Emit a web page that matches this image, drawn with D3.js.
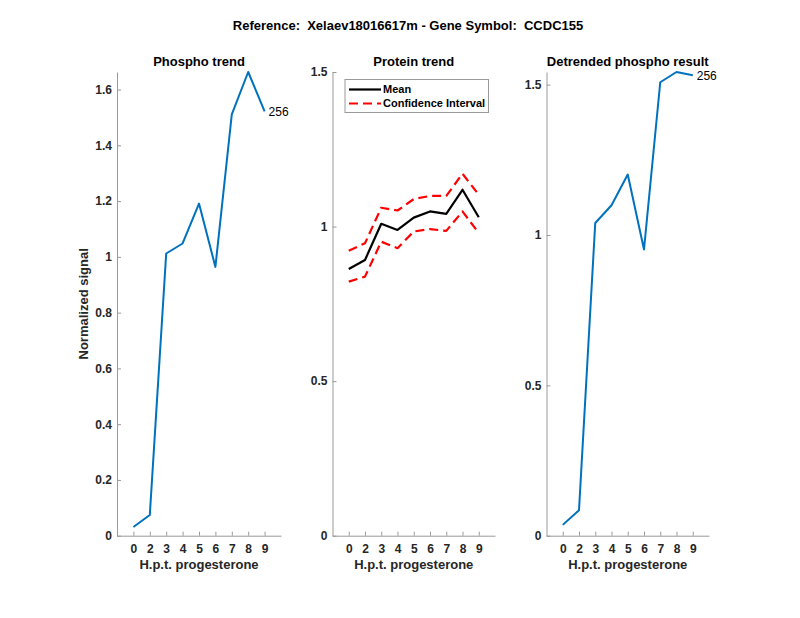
<!DOCTYPE html>
<html>
<head>
<meta charset="utf-8">
<script src="https://cdn.jsdelivr.net/npm/d3@7"></script>
<style>
  html, body { margin: 0; padding: 0; background: #fff; }
  svg { display: block; font-family: "Liberation Sans", Arial, Helvetica, sans-serif; }
</style>
</head>
<body>
<svg id="chart" width="800" height="618"></svg>
<script>
// ---- data ----
const categories = ["0", "2", "3", "4", "5", "6", "7", "8", "9"];
const phospho = [0.031, 0.074, 1.012, 1.048, 1.191, 0.964, 1.511, 1.663, 1.522];
const proteinMean = [0.863, 0.892, 1.009, 0.989, 1.029, 1.049, 1.041, 1.119, 1.030];
const proteinUpper = [0.922, 0.946, 1.061, 1.052, 1.089, 1.099, 1.099, 1.171, 1.103];
const proteinLower = [0.822, 0.838, 0.951, 0.930, 0.984, 0.992, 0.986, 1.049, 0.979];
const detrended = [0.036, 0.085, 1.040, 1.099, 1.201, 0.952, 1.508, 1.542, 1.531];
const phosphoTicks = [0, 0.2, 0.4, 0.6, 0.8, 1, 1.2, 1.4, 1.6];
const proteinTicks = [0, 0.5, 1, 1.5];
const detrendedTicks = [0, 0.5, 1, 1.5];
const mainTitle = "Reference:  Xelaev18016617m - Gene Symbol:  CCDC155";
const peptideLabel = "256";

const svg = d3.select("#chart");
const axisColor = "#9a9a9a";
const textColor = "#262626";
const plotTop = 72, plotBottom = 535.7;

svg.append("text")
  .attr("x", 408).attr("y", 30)
  .attr("text-anchor", "middle")
  .attr("font-size", "13px").attr("font-weight", "bold")
  .attr("fill", "#000")
  .style("white-space", "pre")
  .attr("xml:space", "preserve")
  .text(mainTitle);

function panel(opts) {
  const g = svg.append("g");
  const x = d3.scaleLinear().domain([0, categories.length + 1]).range([opts.left, opts.right]);
  const y = d3.scaleLinear().domain([0, opts.ymax]).range([plotBottom, plotTop]);

  const xAxis = d3.axisBottom(x)
    .tickValues(categories.map((c, i) => i + 1))
    .tickFormat((d) => categories[d - 1])
    .tickSizeInner(-4).tickSizeOuter(0).tickPadding(9);
  const yAxis = d3.axisLeft(y)
    .tickValues(opts.ticks)
    .tickFormat(d3.format("~g"))
    .tickSizeInner(-4).tickSizeOuter(0).tickPadding(5);

  const gx = g.append("g").attr("transform", `translate(0,${plotBottom})`).call(xAxis);
  const gy = g.append("g").attr("transform", `translate(${opts.left},0)`).call(yAxis);
  [gx, gy].forEach((a) => {
    a.select(".domain").attr("stroke", axisColor);
    a.selectAll(".tick line").attr("stroke", axisColor);
    a.selectAll(".tick text")
      .attr("fill", textColor)
      .attr("font-size", "12px")
      .attr("font-weight", "bold")
      .attr("font-family", "'Liberation Sans', Arial, sans-serif");
  });

  g.append("text")
    .attr("x", (opts.left + opts.right) / 2).attr("y", 66)
    .attr("text-anchor", "middle")
    .attr("font-size", "13px").attr("font-weight", "bold").attr("fill", "#000")
    .text(opts.title);

  g.append("text")
    .attr("x", (opts.left + opts.right) / 2).attr("y", 569)
    .attr("text-anchor", "middle")
    .attr("font-size", "13px").attr("font-weight", "bold").attr("fill", textColor)
    .text("H.p.t. progesterone");

  const line = d3.line().x((d, i) => x(i + 1)).y((d) => y(d));
  opts.series.forEach((s) => {
    g.append("path")
      .datum(s.values)
      .attr("d", line)
      .attr("fill", "none")
      .attr("stroke", s.color)
      .attr("stroke-width", s.width)
      .attr("stroke-dasharray", s.dash || null)
      .attr("stroke-linejoin", "round");
  });

  if (opts.endLabel) {
    const v = opts.series[0].values;
    g.append("text")
      .attr("x", x(v.length) + 4)
      .attr("y", y(v[v.length - 1]))
      .attr("dy", "0.35em")
      .attr("font-size", "12px").attr("fill", "#000")
      .text(peptideLabel);
  }
  return { g, x, y };
}

panel({
  left: 117, right: 281, ymax: d3.max(phospho), ticks: phosphoTicks,
  title: "Phospho trend", endLabel: true,
  series: [{ values: phospho, color: "#0072BD", width: 2 }]
});

const p2 = panel({
  left: 332.5, right: 495, ymax: 1.5, ticks: proteinTicks,
  title: "Protein trend", endLabel: false,
  series: [
    { values: proteinMean, color: "#000", width: 2.2 },
    { values: proteinUpper, color: "#ff0000", width: 2.2, dash: "9,5" },
    { values: proteinLower, color: "#ff0000", width: 2.2, dash: "9,5" }
  ]
});

panel({
  left: 546.5, right: 709, ymax: d3.max(detrended), ticks: detrendedTicks,
  title: "Detrended phospho result", endLabel: true,
  series: [{ values: detrended, color: "#0072BD", width: 2 }]
});

// y label
svg.append("text")
  .attr("transform", `translate(87.5,${(plotTop + plotBottom) / 2}) rotate(-90)`)
  .attr("text-anchor", "middle")
  .attr("font-size", "13px").attr("font-weight", "bold").attr("fill", textColor)
  .text("Normalized signal");

// legend
const lg = p2.g.append("g").attr("transform", "translate(345,79.5)");
lg.append("rect").attr("width", 143.5).attr("height", 33)
  .attr("fill", "#fff").attr("stroke", axisColor).attr("stroke-width", 1);
const legendItems = [
  { label: "Mean", color: "#000", dash: null },
  { label: "Confidence Interval", color: "#ff0000", dash: "9,5" }
];
legendItems.forEach((it, i) => {
  const yy = 10 + i * 14;
  lg.append("line").attr("x1", 4).attr("x2", 36).attr("y1", yy).attr("y2", yy)
    .attr("stroke", it.color).attr("stroke-width", 2.2)
    .attr("stroke-dasharray", it.dash);
  lg.append("text").attr("x", 38).attr("y", yy).attr("dy", "0.35em")
    .attr("font-size", "11px").attr("font-weight", "bold").attr("fill", "#000")
    .text(it.label);
});
</script>
</body>
</html>
